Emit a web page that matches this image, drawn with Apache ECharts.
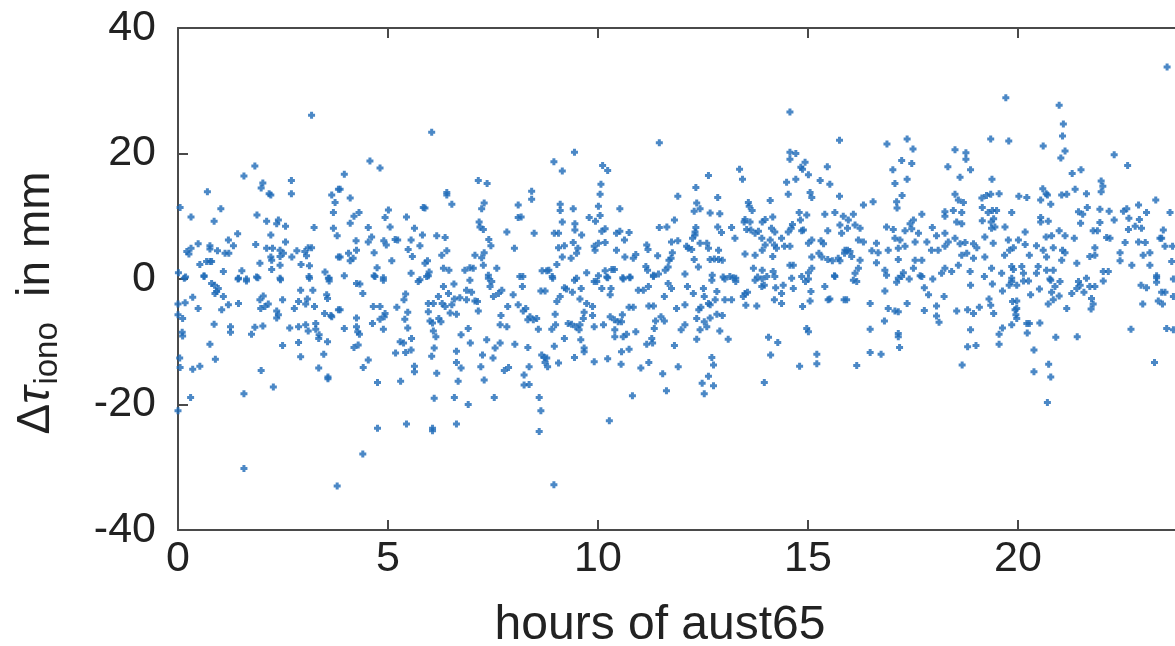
<!DOCTYPE html>
<html>
<head>
<meta charset="utf-8">
<script src="https://cdn.jsdelivr.net/npm/echarts@6/dist/echarts.min.js"></script>
<style>
  html, body { margin: 0; padding: 0; background: #fff; }
  #chart { width: 1175px; height: 646px; }
</style>
</head>
<body>
<div id="chart"></div>
<script>
// ionospheric delay residuals [hour, mm], grouped by hour band
const band0to4 = [
  [3.18,26.1],[1.83,18.0],[1.57,16.4],[2.02,15.3],[1.98,14.5],[2.17,13.6],[2.21,13.4],[2.70,15.7],[2.70,13.6],[0.70,13.9],
  [0.05,11.4],[1.02,11.2],[0.31,9.9],[0.86,9.2],[1.88,10.2],[2.11,9.2],[2.39,9.4],[2.35,8.8],[2.56,8.4],[1.42,7.2],
  [2.21,7.0],[3.24,8.2],[3.66,13.4],[3.74,12.2],[3.70,10.6],[3.70,8.1],[3.79,6.9],[3.82,14.3],[0.48,5.6],[0.21,4.4],
  [0.26,4.0],[0.31,4.9],[0.76,5.3],[0.76,4.8],[0.94,4.5],[1.12,4.1],[1.21,4.1],[1.20,6.2],[1.32,5.3],[1.85,5.5],
  [2.11,4.9],[2.25,4.9],[2.21,3.5],[2.23,3.0],[2.43,4.6],[2.51,4.1],[2.43,3.6],[2.56,5.9],[2.71,3.5],[2.83,4.5],
  [3.02,4.4],[3.10,5.0],[3.18,5.0],[3.06,3.7],[2.93,2.3],[3.13,2.1],[1.95,2.5],[2.23,1.5],[2.43,2.2],[0.52,2.3],
  [0.68,2.8],[0.76,2.8],[0.80,2.8],[1.08,1.2],[1.52,1.3],[0.62,0.5],[0.01,1.0],[0.18,0.3],[1.44,0.1],[1.63,0],
  [1.87,0.3],[2.43,0.1],[3.12,0.4],[3.50,1.1],[3.60,0.1],[3.82,3.5],
  [0,-21.0],[0.30,-18.9],[1.57,-18.3],[1.57,-30.2],[3.79,-33.0],[2.27,-17.2],[1.98,-14.6],[0.05,-14.1],[0.04,-12.6],[0.35,-14.4],
  [0.52,-13.9],[0.89,-12.8],[0.76,-10.4],[0.11,-9.1],[0.10,-8.5],[0.86,-7.2],[1.25,-7.6],[1.25,-8.5],[1.75,-8.8],[1.83,-7.7],
  [2.02,-7.5],[2.49,-10.6],[2.87,-10.1],[2.92,-12.4],[3.35,-14.2],[3.57,-15.6],[3.57,-15.9],[3.47,-12.0],[3.56,-10.0],[3.35,-9.5],
  [3.36,-8.9],[2.66,-7.8],[2.87,-7.6],[3.04,-7.3],[3.10,-8.3],[3.28,-8.0],[3.28,-7.1],[2.49,-3.3],[2.77,-4.7],[2.87,-3.6],
  [2.92,-1.8],[3.08,-3.2],[3.04,-4.0],[3.25,-4.4],[3.21,-1.8],[3.56,-3.1],[3.49,-5.5],[3.64,-5.8],[3.60,-0.3],[3.82,-4.9],
  [3.13,0.1],[2.44,-0.1],[1.90,0.2],[1.63,-0.3],[1.43,0],[0.62,0.4],[0.15,0.1],[0.87,-1.0],[0.92,-2.0],[1.08,-2.8],
  [0.48,-4.7],[0.35,-2.9],[0.17,-3.8],[0,-4.0],[0,-5.7],[0.11,-6.3],[1.04,-4.9],[1.20,-4.1],[1.44,-3.9],[1.95,-3.3],
  [1.97,-4.7],[2.07,-4.4],[2.15,-4.0],[2.03,-2.7],[2.35,-5.1],[2.39,-5.7],[2.35,-6.2],[0.80,-0.7],[0.96,-1.5],[0.88,-2.3],
  [3.58,0.1],[3.54,-2.5],[3.66,-6.0]
];
const band4to8 = [
  [6.04,23.4],[4.57,18.8],[4.81,17.7],[3.96,16.7],[3.86,14.3],[4.10,12.9],[4.31,10.6],[4.19,10.0],[4.10,8.9],[5.01,11.0],
  [4.93,9.8],[5.05,8.3],[5.44,9.9],[5.84,11.4],[5.88,11.3],[6.40,13.8],[6.40,13.4],[6.52,11.9],[7.15,15.7],[7.36,15.2],
  [7.29,12.1],[7.23,11.2],[7.17,9.1],[7.19,8.3],[7.27,7.9],[7.40,6.3],[7.45,5.3],[7.29,4.2],[7.83,7.5],[4.53,8.2],
  [4.61,6.7],[4.53,5.9],[4.24,6.1],[4.25,4.6],[3.86,3.5],[4.06,4.1],[4.17,3.3],[4.10,2.9],[4.67,4.2],[4.90,6.1],
  [4.96,5.4],[5.17,6.3],[5.23,6.2],[5.55,6.2],[5.63,8.1],[5.82,7.0],[6.16,6.9],[6.36,6.6],[5.48,4.7],[5.58,3.6],
  [5.76,5.3],[5.94,2.9],[5.88,2.5],[6.28,3.8],[6.40,4.5],[5.09,2.9],[4.74,1.8],[4.67,0.5],[4.89,0.2],[5.55,0.9],
  [5.98,1.1],[5.92,0.4],[6.32,1.7],[6.45,1.4],[6.83,1.4],[6.95,1.8],[7.03,1.7],[7.07,3.8],[7.23,3.4],[7.27,2.2],
  [7.59,1.7],[7.39,0.6],[3.96,0.5],[5.76,-0.1],
  [4.40,-27.9],[4.75,-23.8],[5.44,-23.1],[6.06,-23.8],[6.06,-24.2],[6.63,-23.1],[4.75,-16.5],[5.30,-16.3],[6.10,-19.0],[6.58,-18.9],
  [6.91,-20.0],[7.53,-18.9],[6.16,-15.0],[6.67,-16.3],[7.29,-16.1],[5.63,-14.8],[5.63,-13.9],[6.04,-12.3],[6.10,-11.0],[6.63,-11.5],
  [6.63,-13.3],[6.74,-14.2],[7.21,-14.0],[7.77,-14.6],[7.87,-14.1],[7.25,-12.1],[7.50,-12.6],[7.55,-11.0],[7.67,-10.2],[7.35,-9.7],
  [6.96,-10.2],[6.74,-8.9],[6.91,-7.9],[6.63,-5.6],[5.56,-9.5],[5.55,-11.3],[5.42,-11.7],[5.29,-10.0],[5.37,-10.2],[5.18,-11.8],
  [4.53,-12.9],[4.41,-14.1],[4.19,-10.9],[4.29,-10.5],[3.96,-7.9],[4.28,-8.4],[4.32,-8.8],[4.25,-7.6],[4.25,-6.2],[3.86,-4.9],
  [4.63,-7.1],[4.81,-6.4],[4.91,-6.0],[4.93,-5.5],[4.89,-8.0],[4.65,-4.4],[4.81,-4.4],[5.21,-4.5],[5.47,-5.3],[5.40,-6.4],
  [5.47,-7.8],[5.38,-3.3],[5.42,-2.4],[5.96,-3.9],[6.08,-3.9],[6.29,-3.9],[5.96,-5.2],[6.00,-6.7],[6.06,-7.0],[6.21,-6.3],
  [6.26,-6.8],[6.08,-8.3],[6.14,-9.2],[6.20,-2.8],[6.36,-4.4],[6.48,-5.4],[6.52,-4.1],[6.58,-3.2],[6.71,-3.0],[6.87,-3.3],
  [6.99,-2.1],[7.07,-3.5],[7.13,-3.6],[7.15,-5.1],[6.87,-1.8],[6.95,-0.2],[7.39,0.1],[7.43,-1.2],[7.51,-2.8],[7.63,-2.3],
  [7.71,-1.8],[7.69,-5.8],[7.67,-7.3],[7.83,-7.6],[4.25,-0.7],[4.33,-0.8],[4.40,-2.3],[4.89,-0.2],[4.69,0.4],[5.72,-0.4],
  [5.96,0.5],[6.32,-1.2],[6.57,-0.8],[6.44,-2.3],[7.47,-0.4]
];
const band8to12 = [
  [11.46,21.7],[9.44,20.2],[8.95,18.7],[9.15,17.2],[10.11,18.1],[10.23,17.3],[10.07,15.1],[10.05,13.5],[8.42,14.0],[8.42,12.7],
  [8.10,11.8],[8.10,9.8],[8.17,9.9],[9.10,11.9],[9.10,10.9],[9.41,11.2],[10.01,11.6],[10.05,10.1],[9.15,9.1],[9.45,8.8],
  [9.45,7.8],[9.61,7.0],[9.79,9.8],[9.94,9.2],[10.52,11.2],[11.90,13.2],[11.82,9.4],[11.46,8.2],[11.64,8.3],[10.09,7.6],
  [10.17,8.0],[10.52,7.6],[10.44,7.3],[10.74,7.4],[10.63,6.2],[8.48,7.3],[8.96,7.3],[9.06,7.3],[9.06,5.0],[9.20,5.3],
  [9.41,5.8],[9.52,4.9],[9.49,4.1],[9.15,3.5],[9.36,3.3],[9.02,2.3],[8.67,1.3],[8.78,1.3],[8.83,1.4],[9.73,1.0],
  [9.93,4.6],[9.91,5.2],[10.01,5.7],[10.17,5.8],[10.44,4.6],[10.64,3.5],[10.84,3.3],[10.90,3.9],[11.16,5.4],[11.19,4.7],
  [11.42,3.7],[11.75,5.9],[11.90,6.1],[11.77,4.2],[11.69,3.0],[11.74,3.3],[11.14,2.0],[11.18,1.4],[11.32,0.6],[11.44,0.8],
  [11.60,1.4],[11.67,1.9],[10.17,1.3],[10.33,1.5],[10.39,1.5],[10.01,0.5],[10.21,0.3],[10.59,0.2],[10.76,0.3],[9.49,0.1],
  [8.21,0.4],[8.91,0.4],[8.01,4.9],
  [8.95,-32.8],[8.60,-24.3],[8.64,-21.0],[8.60,-18.9],[10.27,-22.6],[10.82,-18.6],[11.63,-17.8],[11.54,-15.1],[11.02,-14.2],[11.21,-13.3],
  [10.55,-13.6],[9.91,-13.2],[10.23,-12.7],[9.44,-12.5],[9.06,-13.4],[8.36,-14.0],[8.24,-15.3],[8.24,-16.9],[8.36,-16.8],[8.80,-14.0],
  [8.74,-13.3],[8.72,-12.5],[8.66,-12.1],[8.78,-12.6],[11.91,-14.0],[11.82,-10.6],[11.30,-10.2],[11.16,-10.4],[11.28,-9.5],[10.74,-11.2],
  [10.56,-11.6],[9.67,-11.0],[9.67,-11.6],[9.59,-9.7],[9.20,-9.5],[8.96,-10.7],[8.33,-10.9],[8.02,-10.4],[8.58,-8.0],[8.90,-8.0],
  [8.99,-7.3],[9.29,-7.1],[9.37,-7.2],[9.47,-7.6],[9.57,-7.3],[9.55,-8.1],[9.91,-7.6],[10.13,-7.3],[10.29,-6.0],[10.40,-8.1],
  [10.56,-6.8],[10.48,-6.8],[10.58,-5.7],[10.60,-9.2],[10.40,-9.2],[10.68,-8.8],[10.90,-8.4],[11.34,-7.9],[11.37,-6.7],[11.50,-6.0],
  [11.58,-6.7],[11.21,-4.3],[11.32,-4.3],[10.74,-4.5],[10.84,-4.5],[10.39,-6.5],[9.87,-4.4],[9.67,-5.3],[9.73,-3.9],[9.87,-5.8],
  [9.65,-6.3],[9.57,-3.2],[9.39,-2.1],[9.25,-1.6],[9.20,-1.4],[9.10,-2.8],[9.02,-3.6],[8.98,-5.6],[8.54,-6.3],[8.46,-6.5],
  [8.33,-6.5],[8.38,-6.0],[8.28,-4.7],[8.22,-5.1],[8.10,-4.1],[7.98,-2.5],[7.85,-4.4],[8.20,-1.2],[8.14,0.4],[8.64,-1.9],
  [8.74,-1.9],[8.92,0.1],[9.44,-0.2],[9.60,-1.5],[9.91,-0.4],[9.97,-0.4],[10.09,-1.5],[10.23,0.2],[10.31,-1.5],[10.29,-2.5],
  [10.60,0],[10.76,0.2],[10.96,-1.8],[11.08,-1.8],[11.20,-1.2],[11.32,0.4],[11.58,-2.8],[11.67,-0.7],[11.75,-1.5],[11.87,-4.7]
];
const band12to16 = [
  [14.57,26.6],[15.75,22.1],[14.57,20.2],[14.71,20.0],[14.57,19.1],[14.93,18.6],[14.83,17.8],[14.87,17.5],[15.46,17.9],[15.01,16.6],
  [13.37,17.5],[13.44,15.9],[12.63,16.5],[14.49,15.4],[14.71,15.9],[15.29,15.7],[15.52,15.1],[12.33,14.6],[12.85,13.0],[15.05,13.8],
  [15.09,13.0],[14.53,13.5],[15.75,13.2],[13.58,12.2],[13.60,11.6],[13.67,10.9],[14.10,12.5],[12.35,12.1],[12.43,11.2],[12.29,10.8],
  [12.67,10.5],[12.90,10.4],[13.50,9.5],[13.48,9.1],[13.62,9.1],[13.91,9.1],[13.98,9.5],[14.16,9.9],[14.13,8.1],[14.21,7.5],
  [13.64,7.8],[13.54,7.9],[13.74,7.3],[13.82,7.6],[13.90,6.5],[12.85,8.3],[12.94,7.4],[12.33,8.2],[12.31,7.5],[12.31,7.0],
  [12.25,6.5],[13.18,8.2],[13.26,6.5],[14.79,10.6],[14.97,10.2],[14.82,9.4],[14.85,7.7],[14.63,8.7],[14.60,8.1],[14.53,7.5],
  [14.89,7.8],[15.40,10.3],[15.64,10.6],[15.84,10.0],[15.76,8.6],[15.94,8.1],[15.47,7.7],[15.80,7.3],[15.09,6.2],[15.01,5.7],
  [15.31,6.1],[15.37,5.6],[12.15,4.9],[12.11,5.2],[12.23,4.7],[12.43,5.7],[12.59,5.7],[12.63,4.9],[12.87,4.6],[12.29,3.1],
  [12.39,1.9],[12.77,3.2],[12.87,3.1],[12.96,3.0],[12.67,3.1],[12.07,0.8],[12.72,0.6],[12.98,0.3],[13.14,0.4],[13.28,0.1],
  [13.50,4.0],[13.74,3.8],[13.91,4.6],[13.98,5.4],[14.10,6.2],[14.20,5.4],[14.25,4.9],[14.37,6.5],[14.44,5.2],[14.57,5.2],
  [14.16,3.6],[13.70,1.7],[13.91,1.4],[13.80,0.3],[14.02,0.4],[14.17,1.2],[14.57,2.2],[14.65,2.2],[14.85,0.4],[15.01,1.0],
  [15.09,1.7],[15.09,3.5],[15.26,4.1],[15.33,3.5],[15.47,3.1],[15.58,2.9],[15.72,3.3],[15.76,2.9],[15.87,4.1],[15.94,4.6],
  [15.63,0.5],
  [12.53,-18.3],[12.48,-16.6],[12.75,-17.0],[12.63,-15.5],[12.71,-12.5],[12.75,-13.7],[13.96,-16.5],[14.11,-12.1],[14.06,-9.3],[14.28,-10.1],
  [14.80,-13.9],[15.21,-12.0],[15.21,-13.5],[14.97,-7.9],[15.01,-8.4],[13.10,-9.6],[12.90,-8.3],[12.35,-9.6],[11.98,-8.1],[12.07,-7.3],
  [12.43,-8.1],[12.53,-6.8],[12.59,-7.6],[12.67,-6.2],[12.83,-5.6],[12.96,-5.8],[12.35,-6.3],[12.40,-4.9],[12.45,-4.5],[12.07,-4.1],
  [12.27,-2.3],[12.13,-1.2],[12.51,-1.5],[12.53,-2.8],[12.63,-3.9],[12.67,-4.1],[12.79,-3.3],[12.83,-2.0],[13.02,-3.3],[13.18,-3.3],
  [12.71,-0.2],[13.02,0],[13.22,0.2],[13.28,-0.4],[13.46,-2.8],[13.50,-2.3],[13.56,-2.1],[13.52,-4.2],[13.78,-4.3],[13.74,-0.2],
  [13.91,0],[13.96,-1.0],[13.90,-1.2],[14.20,-3.3],[14.37,-3.9],[14.37,-2.3],[14.41,-1.0],[14.23,-1.4],[14.65,-1.5],[14.61,0.1],
  [14.87,-4.4],[15.05,-3.5],[15.07,-2.0],[14.94,-0.4],[15.01,0],[15.40,-1.2],[15.48,-3.3],[15.52,-3.2],[15.64,0.4],[15.86,-3.3],
  [14.21,0.4]
];
const band16to20 = [
  [19.71,28.9],[16.88,21.5],[17.36,22.3],[17.50,20.7],[19.35,22.3],[19.78,22.0],[18.50,20.6],[18.76,20.1],[18.76,19.1],[18.87,17.4],
  [18.33,17.9],[17.23,18.9],[17.47,18.4],[17.02,17.4],[17.36,15.9],[17.07,15.2],[18.62,16.2],[19.38,15.9],[16.55,12.3],[16.32,11.8],
  [17.11,12.3],[17.12,11.3],[17.24,13.3],[18.50,13.5],[18.58,12.6],[18.70,12.2],[19.14,12.9],[19.25,13.3],[19.35,13.5],[19.55,13.6],
  [19.15,11.4],[19.29,10.6],[19.39,10.9],[19.49,10.9],[19.85,10.6],[19.15,9.3],[19.36,9.1],[19.42,9.6],[19.45,8.3],[19.37,8.1],
  [19.69,8.3],[16.08,10.3],[15.96,9.4],[16.12,8.6],[16.24,8.1],[17.71,10.3],[17.51,9.4],[17.43,8.8],[17.47,8.0],[17.31,7.7],
  [17.03,7.9],[16.87,8.3],[18.26,10.7],[18.26,10.0],[18.46,10.9],[18.66,10.6],[18.54,9.1],[18.66,8.8],[17.96,8.2],[18.06,6.9],
  [18.26,7.3],[18.50,6.5],[17.63,7.3],[17.55,5.9],[17.83,5.9],[17.07,6.5],[17.19,6.2],[16.63,5.7],[16.52,4.5],[16.67,4.2],
  [16.91,4.6],[17.15,4.9],[17.31,5.2],[15.88,4.6],[16.00,4.4],[16.04,3.6],[16.24,3.0],[16.20,6.2],[16.32,5.9],[16.20,1.7],
  [16.12,0.9],[16.63,2.6],[16.83,1.4],[17.15,3.1],[17.27,1.0],[17.51,1.7],[17.55,3.0],[17.71,3.0],[17.94,4.6],[18.10,4.6],
  [18.26,5.2],[18.34,5.9],[18.62,5.6],[18.74,5.8],[18.94,5.6],[19.02,5.0],[18.66,3.8],[18.78,4.1],[18.94,3.3],[19.21,3.5],
  [19.21,6.7],[19.41,5.7],[19.68,3.8],[19.77,6.2],[19.80,4.6],[19.85,2.0],[19.61,0.9],[19.37,1.7],[18.26,1.7],[18.18,0.9],
  [18.42,1.2],[18.58,2.2],[17.71,0.4],[17.15,0.1],[16.87,0.6],[18.86,1.2],[19.20,0.4],
  [16.16,-13.8],[18.67,-13.7],[16.48,-11.7],[16.74,-12.0],[16.48,-8.0],[16.82,-6.7],[17.15,-8.7],[17.15,-9.2],[17.18,-10.9],[18.80,-10.8],
  [19.00,-10.6],[19.55,-10.4],[18.87,-8.1],[19.55,-8.8],[19.63,-7.8],[19.85,-7.3],[16.83,-1.9],[17.11,-0.5],[17.41,0],[17.77,-1.4],
  [17.87,-2.5],[18.24,-2.8],[16.48,-3.9],[16.91,-4.7],[17.07,-5.1],[17.15,-5.2],[17.36,-3.9],[17.77,-5.0],[18.06,-4.3],[18.06,-5.9],
  [18.12,-6.9],[18.54,-5.1],[18.80,-4.9],[18.94,-5.5],[19.08,-4.5],[19.31,-3.2],[19.35,-4.2],[19.42,-5.5],[18.87,-1.0],[19.39,-0.8],
  [19.63,-1.9],[19.79,-1.0],[19.87,-3.6],[19.93,-4.9],[17.97,0],[17.67,0.5],[17.23,0.4],[16.16,-0.4],[16.08,-0.2],[15.92,-3.3],
  [19.85,0.1]
];
const band20to24 = [
  [23.55,33.8],[20.98,27.7],[21.08,24.7],[21.06,22.8],[21.12,20.4],[21.02,19.3],[20.60,21.2],[22.29,19.8],[22.61,18.1],[21.29,16.8],
  [21.50,17.4],[21.98,15.6],[22.02,14.8],[21.98,13.9],[20.02,13.2],[20.21,13.0],[20.59,14.4],[20.67,13.6],[20.70,13.4],[20.54,12.6],
  [20.78,11.9],[21.04,13.4],[21.16,13.5],[21.36,14.3],[21.63,13.6],[23.28,12.6],[20.54,9.8],[20.54,9.1],[20.72,9.2],[20.98,7.7],
  [21.44,10.7],[21.54,10.3],[21.65,11.4],[21.49,8.9],[21.95,11.1],[22.17,10.8],[22.51,10.8],[22.59,11.2],[22.64,9.7],[22.87,11.8],
  [22.89,9.5],[23.06,10.6],[23.62,10.6],[21.89,7.7],[21.79,7.7],[21.95,9.0],[22.11,6.6],[22.19,6.5],[22.29,9.4],[22.63,7.9],
  [22.79,8.4],[22.94,8.1],[23.46,7.8],[23.38,6.5],[20.17,7.5],[20.01,6.2],[19.89,5.0],[20.17,5.5],[20.44,5.3],[20.67,6.7],
  [20.80,6.9],[20.84,5.0],[20.60,4.6],[20.68,3.5],[20.27,3.8],[21.12,6.9],[21.34,6.5],[21.06,4.6],[21.12,4.2],[21.04,3.0],
  [20.84,1.4],[20.68,1.4],[20.48,2.0],[20.44,0.9],[20.09,2.0],[20.13,0.9],[19.89,1.5],[21.40,2.5],[21.71,3.6],[21.83,3.8],
  [21.83,5.0],[22.15,1.2],[22.03,1.2],[22.43,4.2],[22.43,2.9],[22.55,5.8],[22.71,2.2],[22.87,5.9],[23.03,5.8],[23.14,4.2],
  [22.98,3.8],[23.14,2.2],[23.42,6.5],[23.50,5.2],[23.68,5.2],[23.30,0.5],[23.66,2.8],[20.76,0],
  [20.70,-19.7],[20.38,-14.8],[20.78,-15.6],[20.73,-13.6],[20.38,-11.3],[23.25,-13.3],[20.90,-9.3],[21.41,-9.2],[20.22,-8.6],[22.69,-8.0],
  [23.54,-7.9],[23.70,-8.1],[20.21,-7.1],[20.27,-7.1],[20.52,-7.0],[19.97,-6.3],[19.95,-5.7],[19.97,-4.7],[19.97,-3.5],[20.30,-2.5],
  [20.51,-1.6],[20.72,-4.0],[20.84,-3.3],[20.98,-2.7],[20.88,-1.2],[20.80,-2.1],[21.00,-0.4],[20.78,-0.2],[20.13,-0.3],[20.25,-0.3],
  [19.97,-1.0],[19.85,-0.4],[21.16,-4.7],[21.28,-2.3],[21.40,-1.5],[21.48,-1.0],[21.44,-0.4],[21.57,-2.1],[21.63,0.1],[21.75,-3.1],
  [21.79,-4.0],[21.74,-4.8],[21.71,-1.2],[21.83,-1.2],[22.03,-0.3],[22.97,-4.0],[23.06,-1.4],[22.93,-1.0],[23.30,0.2],[23.30,-0.5],
  [23.34,-3.5],[23.44,-4.0],[23.42,-2.1],[23.50,-2.1],[23.70,0],[23.70,-2.8]
];

const xTicks = [0, 5, 10, 15, 20];
const yTicks = [-40, -20, 0, 20, 40];
const xName = "hours of aust65";

const points = [].concat(band0to4, band4to8, band8to12, band12to16, band16to20, band20to24);

const chart = echarts.init(document.getElementById("chart"), null, { renderer: "canvas" });
const frame = { lineStyle: { color: "#4a4a4a", width: 2 } };
const font = "Liberation Sans, Arial, sans-serif";

chart.setOption({
  animation: false,
  // the plot runs to 24 h, a little past the right edge of the picture
  grid: { left: 178, top: 28, bottom: 116, width: 1008, show: false, outerBoundsMode: "none", containLabel: false },
  xAxis: [
    {
      type: "value", min: 0, max: 24, interval: 5,
      axisLine: { show: true, onZero: false, ...frame },
      axisTick: { show: true, inside: true, length: 10, ...frame },
      splitLine: { show: false },
      axisLabel: {
        showMaxLabel: false, margin: 8, color: "#222", fontSize: 43, fontFamily: font,
        formatter: (v) => (xTicks.includes(v) ? String(v) : "")
      },
      name: xName, nameLocation: "middle", nameGap: 72,
      nameTextStyle: { color: "#222", fontSize: 48, fontFamily: font, padding: [0, 44, 0, 0] }
    },
    {
      type: "value", position: "top", min: 0, max: 24, interval: 5,
      axisLine: { show: true, onZero: false, ...frame },
      axisTick: { show: true, inside: true, length: 10, ...frame },
      axisLabel: { show: false }, splitLine: { show: false }
    }
  ],
  yAxis: {
    type: "value", min: -40, max: 40, interval: 20,
    axisLine: { show: true, onZero: false, ...frame },
    axisTick: { show: true, inside: true, length: 10, ...frame },
    splitLine: { show: false },
    axisLabel: {
      margin: 22, color: "#222", fontSize: 43, fontFamily: font,
      formatter: (v) => (yTicks.includes(v) ? String(v) : "")
    },
    name: "{d|Δ}{t|τ}{s|iono}{n|  in mm}",
    nameLocation: "middle", nameRotate: 90, nameGap: 114,
    nameTextStyle: {
      color: "#222", fontSize: 46, fontFamily: font, padding: [0, 48, 0, 0],
      rich: {
        d: { fontSize: 46, fontFamily: font, color: "#222" },
        t: { fontSize: 46, fontFamily: font, fontStyle: "italic", color: "#222" },
        s: { fontSize: 33, fontFamily: font, color: "#222", padding: [22, 0, 0, 2] },
        n: { fontSize: 46, fontFamily: font, color: "#222" }
      }
    }
  },
  series: [
    {
      type: "scatter",
      data: points,
      symbol: "path://M2,0H5V2H7V5H5V7H2V5H0V2H2Z",
      symbolSize: 7,
      itemStyle: { color: "#1e6ab8" },
      clip: true
    }
  ]
});
</script>
</body>
</html>
